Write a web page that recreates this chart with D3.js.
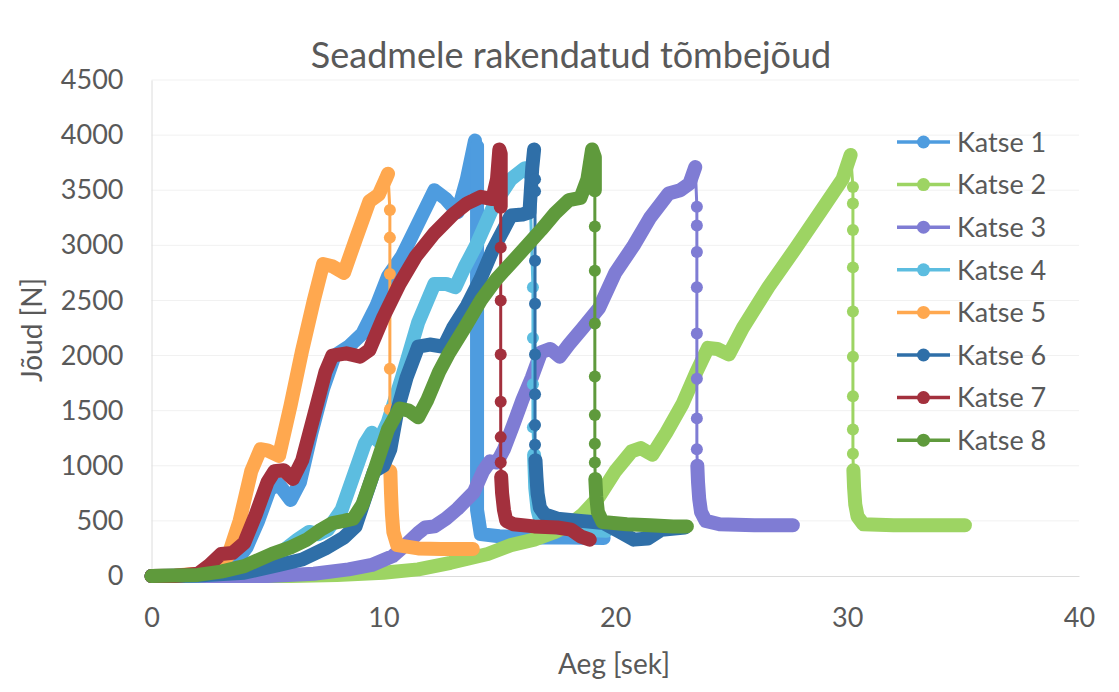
<!DOCTYPE html>
<html>
<head>
<meta charset="utf-8">
<script src="https://cdn.jsdelivr.net/npm/d3@7"></script>
<style>
  body { margin: 0; background: #fff; }
  svg text { font-family: Lato, "Open Sans", sans-serif; fill: #595959; }
</style>
</head>
<body>
<svg id="chart" width="1119" height="692"></svg>
<script>
  // values: [aeg (s), jõud (N)]
  // *Rise / *Tail = densely sampled parts, *Drop = the separate markers on the fall
  var k1Rise = [[0,0],[1,0],[2,10],[3,40],[3.6,120],[4.1,260],[4.6,500],[5.1,790],[5.5,830],[6.0,690],[6.4,850],[6.9,1300],[7.4,1700],[7.9,2000],[8.5,2080],[9.1,2200],[9.7,2450],[10.2,2720],[10.8,2900],[11.5,3200],[12.2,3500],[12.7,3420],[13.2,3300],[13.6,3600],[13.95,3950]];
  var k1Drop = [];
  var k1Tail = [[14.04,3900],[14.04,2000],[14.04,600],[14.2,380],[15,360],[16.5,350],[18,350],[19.5,345]];

  var k2Rise = [[0,0],[3,0],[6,0],[8,10],[10,30],[11.5,60],[12.9,120],[14.5,200],[15.5,280],[16.5,330],[17.4,400],[18.0,460],[18.6,560],[19.3,720],[20.0,950],[20.7,1130],[21.1,1160],[21.6,1100],[22.2,1300],[22.9,1560],[23.5,1850],[24.0,2070],[24.4,2060],[24.9,2010],[25.5,2250],[26.6,2620],[27.8,2980],[28.9,3320],[29.8,3600],[30.15,3820]];
  var k2Drop = [[30.25,3530],[30.25,3380],[30.25,3140],[30.25,2800],[30.25,2400],[30.25,1990],[30.25,1630],[30.25,1330],[30.25,1110]];
  var k2Tail = [[30.27,960],[30.3,800],[30.35,650],[30.45,540],[30.7,470],[32,460],[33.5,460],[35.08,460]];

  var k3Rise = [[0,0],[3,0],[5,0],[7,20],[8.5,60],[9.5,100],[10.4,180],[11.0,290],[11.5,390],[11.8,440],[12.2,450],[12.7,520],[13.2,610],[13.9,760],[14.3,950],[14.6,1040],[14.9,1030],[15.2,1150],[15.6,1370],[16.0,1600],[16.4,1800],[16.8,2030],[17.2,2060],[17.6,1990],[18.0,2100],[18.6,2250],[19.3,2430],[20.0,2750],[20.8,3000],[21.5,3250],[22.3,3470],[22.8,3500],[23.2,3560],[23.45,3710]];
  var k3Drop = [[23.52,3350],[23.52,3180],[23.52,2940],[23.52,2620],[23.52,2200],[23.52,1790],[23.52,1430],[23.52,1150]];
  var k3Tail = [[23.54,1000],[23.57,850],[23.62,700],[23.7,580],[23.9,500],[24.5,470],[26,460],[27.66,460]];

  var k4Rise = [[0,0],[2,5],[3.5,30],[4.5,80],[5.5,200],[6.3,330],[6.8,400],[7.2,380],[7.6,420],[8.2,600],[8.7,900],[9.2,1200],[9.5,1300],[9.8,1220],[10.2,1400],[10.8,1800],[11.5,2300],[12.2,2650],[12.7,2650],[13.1,2620],[13.5,2800],[14.0,3000],[14.8,3380],[15.5,3600],[16.1,3700],[16.3,3650]];
  var k4Drop = [[16.45,2620],[16.45,2160],[16.45,1740],[16.45,1350]];
  var k4Tail = [[16.5,1100],[16.55,800],[16.65,600],[16.8,480],[17.5,440],[18.5,420],[19.6,410]];

  var k5Rise = [[0,0],[1,5],[2,20],[2.8,60],[3.3,180],[3.8,500],[4.3,950],[4.7,1150],[5.0,1140],[5.5,1090],[6.0,1550],[6.5,2050],[7.0,2500],[7.4,2830],[7.8,2810],[8.3,2750],[8.8,3050],[9.4,3400],[9.8,3460],[10.1,3600],[10.2,3650]];
  var k5Drop = [[10.28,3320],[10.28,3070],[10.28,2740],[10.28,1880],[10.28,1510]];
  var k5Tail = [[10.3,950],[10.33,750],[10.37,560],[10.43,400],[10.6,280],[11.5,250],[12.5,245],[13.86,245]];

  var k6Rise = [[0,0],[2,5],[4,30],[5.5,100],[6.5,150],[7.5,250],[8.3,350],[8.8,450],[9.2,700],[9.6,950],[10.0,1000],[10.3,1150],[10.6,1500],[11.0,1800],[11.5,2080],[12.0,2100],[12.6,2080],[13.0,2250],[13.6,2450],[14.2,2700],[14.7,2950],[15.2,3150],[15.5,3270],[16.0,3280],[16.3,3300],[16.42,3700],[16.5,3870]];
  var k6Drop = [[16.54,3600],[16.54,3490],[16.54,2860],[16.54,2470],[16.54,2010],[16.54,1650],[16.54,1370],[16.54,1190]];
  var k6Tail = [[16.56,1050],[16.6,900],[16.65,750],[16.75,620],[16.95,560],[17.5,520],[18.5,500],[19.5,480],[20.2,400],[20.8,330],[21.4,340],[22,420],[23,440]];

  var k7Rise = [[0,0],[1,0],[2,20],[2.5,100],[3.0,200],[3.5,210],[4.0,300],[4.5,560],[5.0,850],[5.3,950],[5.7,960],[6.1,880],[6.5,1050],[7.0,1450],[7.5,1850],[7.8,2000],[8.4,2020],[9.0,1990],[9.4,2050],[10.0,2350],[10.7,2650],[11.4,2900],[12.2,3110],[13.0,3280],[13.6,3380],[14.2,3440],[14.7,3420],[14.9,3600],[15.0,3870],[15.06,3830],[15.06,3350]];
  var k7Drop = [[15.06,2980],[15.06,2500],[15.06,2010],[15.06,1580],[15.06,1260],[15.06,1030]];
  var k7Tail = [[15.08,900],[15.12,750],[15.2,600],[15.3,500],[15.6,470],[16.5,450],[17.5,440],[18.1,420],[18.5,360],[18.9,330]];

  var k8Rise = [[0,0],[2,10],[3,40],[4,90],[5.2,200],[6.0,260],[6.7,330],[7.3,420],[7.8,480],[8.3,500],[8.7,520],[9.1,650],[9.6,950],[10.2,1330],[10.7,1520],[11.1,1500],[11.5,1440],[11.9,1600],[12.4,1850],[12.8,2010],[13.5,2250],[14.2,2500],[14.9,2700],[15.6,2860],[16.2,3000],[16.8,3140],[17.4,3290],[18.0,3410],[18.5,3430],[18.8,3600],[19.0,3870],[19.12,3800],[19.12,3500]];
  var k8Drop = [[19.12,3170],[19.12,2770],[19.12,2290],[19.12,1810],[19.12,1460],[19.12,1200],[19.12,1030]];
  var k8Tail = [[19.14,880],[19.18,720],[19.25,580],[19.45,490],[20.5,470],[21.5,460],[22.5,450],[23.09,450]];

  var seriesNames = ['Katse 1', 'Katse 2', 'Katse 3', 'Katse 4', 'Katse 5', 'Katse 6', 'Katse 7', 'Katse 8'];
  var xTicks = [0, 10, 20, 30, 40];
  var yTicks = [0, 500, 1000, 1500, 2000, 2500, 3000, 3500, 4000, 4500];

  var series = [
    { name: seriesNames[0], color: '#4e9cdf', rise: k1Rise, drop: k1Drop, tail: k1Tail },
    { name: seriesNames[1], color: '#9dd463', rise: k2Rise, drop: k2Drop, tail: k2Tail },
    { name: seriesNames[2], color: '#7f7cd4', rise: k3Rise, drop: k3Drop, tail: k3Tail },
    { name: seriesNames[3], color: '#5cbde0', rise: k4Rise, drop: k4Drop, tail: k4Tail },
    { name: seriesNames[4], color: '#ffa84f', rise: k5Rise, drop: k5Drop, tail: k5Tail },
    { name: seriesNames[5], color: '#2f6fa8', rise: k6Rise, drop: k6Drop, tail: k6Tail },
    { name: seriesNames[6], color: '#a3303d', rise: k7Rise, drop: k7Drop, tail: k7Tail },
    { name: seriesNames[7], color: '#5f9a3c', rise: k8Rise, drop: k8Drop, tail: k8Tail }
  ];

  var svg = d3.select('#chart');

  var x = d3.scaleLinear().domain([0, 40]).range([151.5, 1079]);
  var y = d3.scaleLinear().domain([0, 4500]).range([576, 80]);

  // faint gridlines
  svg.append('g')
    .selectAll('line')
    .data(yTicks.slice(1))
    .enter().append('line')
      .attr('x1', x(0)).attr('x2', x(40))
      .attr('y1', function(d) { return y(d); })
      .attr('y2', function(d) { return y(d); })
      .attr('stroke', '#f1f1f1')
      .attr('stroke-width', 1);

  var yAxis = svg.append('g')
    .attr('transform', 'translate(' + x(0) + ',0)')
    .call(d3.axisLeft(y).tickValues(yTicks).tickFormat(d3.format('d')).tickSize(0).tickPadding(28));
  yAxis.select('.domain').attr('stroke', '#dcdcdc');
  yAxis.selectAll('text').style('font-size', '27px').style('fill', '#595959');

  var xAxis = svg.append('g')
    .attr('transform', 'translate(0,' + y(0) + ')')
    .call(d3.axisBottom(x).tickValues(xTicks).tickFormat(d3.format('d')).tickSize(0).tickPadding(32));
  xAxis.select('.domain').attr('stroke', '#dcdcdc');
  xAxis.selectAll('text').style('font-size', '27px').style('fill', '#595959');

  svg.append('text')
    .attr('x', 571).attr('y', 68)
    .attr('text-anchor', 'middle')
    .style('font-size', '36px')
    .text('Seadmele rakendatud tõmbejõud');

  svg.append('text')
    .attr('x', 614).attr('y', 674)
    .attr('text-anchor', 'middle')
    .style('font-size', '28px')
    .text('Aeg [sek]');

  svg.append('text')
    .attr('transform', 'translate(42,330) rotate(-90)')
    .attr('text-anchor', 'middle')
    .style('font-size', '28px')
    .text('Jõud [N]');

  var line = d3.line()
    .x(function(d) { return x(d[0]); })
    .y(function(d) { return y(d[1]); });

  var plot = svg.append('g');

  series.forEach(function(s) {
    var g = plot.append('g').attr('class', 'series');
    var all = s.rise.concat(s.drop, s.tail);

    // thin connecting line through every point
    g.append('path')
      .attr('d', line(all))
      .attr('fill', 'none')
      .attr('stroke', s.color)
      .attr('stroke-width', 3);

    // overlapping markers of the dense parts read as one wide band
    [s.rise, s.tail].forEach(function(part) {
      g.append('path')
        .attr('d', line(part))
        .attr('fill', 'none')
        .attr('stroke', s.color)
        .attr('stroke-width', 14)
        .attr('stroke-linejoin', 'round')
        .attr('stroke-linecap', 'round');
    });

    g.selectAll('circle')
      .data(s.drop)
      .enter().append('circle')
        .attr('cx', function(d) { return x(d[0]); })
        .attr('cy', function(d) { return y(d[1]); })
        .attr('r', 6)
        .attr('fill', s.color);
  });

  // legend
  var legend = svg.append('g')
    .attr('transform', 'translate(897,142)');

  var item = legend.selectAll('g')
    .data(series)
    .enter().append('g')
      .attr('transform', function(d, i) { return 'translate(0,' + (i * 42.6) + ')'; });

  item.append('line')
    .attr('x1', 0).attr('x2', 53)
    .attr('stroke', function(d) { return d.color; })
    .attr('stroke-width', 3.5);

  item.append('circle')
    .attr('cx', 26.5).attr('r', 6.5)
    .attr('fill', function(d) { return d.color; });

  item.append('text')
    .attr('x', 60).attr('dy', '0.36em')
    .style('font-size', '27px')
    .text(function(d) { return d.name; });
</script>
</body>
</html>
